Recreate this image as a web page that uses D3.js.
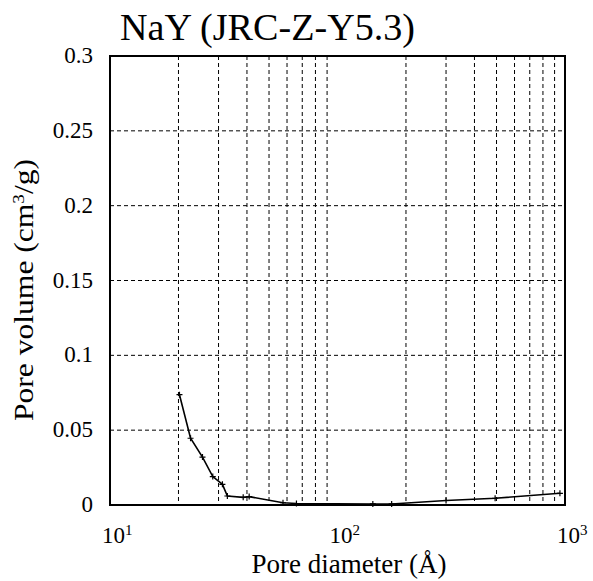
<!DOCTYPE html>
<html>
<head>
<meta charset="utf-8">
<script src="https://cdn.jsdelivr.net/npm/d3@7"></script>
<style>
  body { margin: 0; background: #fff; }
  svg { display: block; }
  text { font-family: "Liberation Serif", "Times New Roman", serif; }
</style>
</head>
<body>
<svg id="chart" width="593" height="581"></svg>
<script>
// pore size distribution
const diameters = [20.2, 22.6, 25.5, 28.3, 31.2, 32.8, 38.5, 40.9, 57.6, 66, 143, 173, 300, 493, 950];
const volumes   = [0.0737, 0.0446, 0.032, 0.019, 0.0138, 0.006, 0.0051, 0.0056, 0.0015, 0.001, 0.0007, 0.0007, 0.003, 0.0045, 0.0078];
const yTicks = [0, 0.05, 0.1, 0.15, 0.2, 0.25, 0.3];
const yTickLabels = ['0', '0.05', '0.1', '0.15', '0.2', '0.25', '0.3'];
const xDecades = [10, 100, 1000];
const xDecadeExp = ['1', '2', '3'];

const svg = d3.select('#chart');
const mLeft = 110, mRight = 565, mTop = 56, mBottom = 505;

const x = d3.scaleLog().domain([10, 1000]).range([mLeft, mRight]);
const y = d3.scaleLinear().domain([0, 0.3]).range([mBottom, mTop]);

// grid
let xGrid = [];
for (let d = 10; d < 1000; d *= 10) {
    for (let k = 2; k <= 9; k++) xGrid.push(d * k);
}
svg.append('g').selectAll('line')
    .data(xGrid)
    .enter().append('line')
    .attr('x1', d => x(d)).attr('x2', d => x(d))
    .attr('y1', mTop).attr('y2', mBottom)
    .attr('stroke', '#000').attr('stroke-width', 1)
    .attr('stroke-dasharray', '4,3');

svg.append('g').selectAll('line')
    .data(yTicks.slice(1, -1))
    .enter().append('line')
    .attr('x1', mLeft).attr('x2', mRight)
    .attr('y1', d => y(d)).attr('y2', d => y(d))
    .attr('stroke', '#000').attr('stroke-width', 1)
    .attr('stroke-dasharray', '4,3');

// frame
svg.append('rect')
    .attr('x', mLeft).attr('y', mTop)
    .attr('width', mRight - mLeft).attr('height', mBottom - mTop)
    .attr('fill', 'none').attr('stroke', '#000').attr('stroke-width', 2);

// y axis labels
svg.append('g').selectAll('text')
    .data(yTicks)
    .enter().append('text')
    .attr('x', 93)
    .attr('y', d => y(d) + 7)
    .attr('text-anchor', 'end')
    .attr('font-size', 23)
    .text((d, i) => yTickLabels[i]);

// x axis labels (powers of ten)
const xl = svg.append('g').selectAll('text')
    .data(xDecades)
    .enter().append('text')
    .attr('x', d => x(d) - 8)
    .attr('y', 543)
    .attr('font-size', 23);
xl.append('tspan').text('10');
xl.append('tspan')
    .attr('dy', -8).attr('font-size', 15)
    .text((d, i) => xDecadeExp[i]);

// data line
const pts = diameters.map((d, i) => [d, volumes[i]]);
svg.append('path')
    .datum(pts)
    .attr('fill', 'none')
    .attr('stroke', '#000')
    .attr('stroke-width', 1.6)
    .attr('d', d3.line().x(d => x(d[0])).y(d => y(d[1])));

svg.append('g').selectAll('path')
    .data(pts)
    .enter().append('path')
    .attr('d', d => `M${x(d[0]) - 3},${y(d[1])}h6M${x(d[0])},${y(d[1]) - 3}v6`)
    .attr('stroke', '#000').attr('stroke-width', 1.2);

// titles
svg.append('text')
    .attr('x', 120).attr('y', 40)
    .attr('font-size', 38)
    .attr('textLength', 295)
    .attr('lengthAdjust', 'spacingAndGlyphs')
    .text('NaY (JRC-Z-Y5.3)');

svg.append('text')
    .attr('x', 349).attr('y', 573)
    .attr('text-anchor', 'middle')
    .attr('font-size', 27)
    .text('Pore diameter (Å)');

const yl = svg.append('text')
    .attr('transform', 'translate(33,290) rotate(-90)')
    .attr('text-anchor', 'middle')
    .attr('font-size', 28)
    .attr('textLength', 262)
    .attr('lengthAdjust', 'spacingAndGlyphs');
yl.append('tspan').text('Pore volume (cm');
yl.append('tspan').attr('dy', -9).attr('font-size', 17).text('3');
yl.append('tspan').attr('dy', 9).text('/g)');
</script>
</body>
</html>
